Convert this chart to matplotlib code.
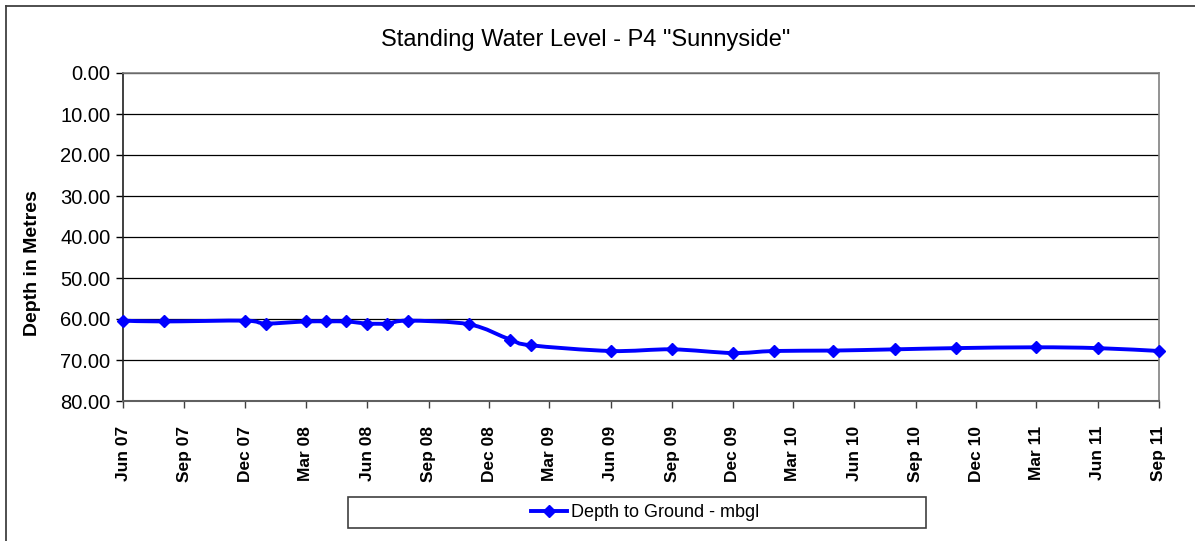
import matplotlib
matplotlib.use("Agg")
import matplotlib.pyplot as plt
import matplotlib.dates as mdates
from matplotlib.path import Path
from matplotlib.patches import PathPatch, Rectangle
from matplotlib.lines import Line2D
import numpy as np
from datetime import datetime

plt.rcParams['font.family'] = ['Liberation Sans', 'DejaVu Sans']

# ---- data ----
dates = ["2007-06", "2007-08", "2007-12", "2008-01", "2008-03", "2008-04",
         "2008-05", "2008-06", "2008-07", "2008-08", "2008-11", "2009-01",
         "2009-02", "2009-06", "2009-09", "2009-12", "2010-02", "2010-05",
         "2010-08", "2010-11", "2011-03", "2011-06", "2011-09"]
depth = [60.4, 60.6, 60.4, 61.1, 60.6, 60.6,
         60.6, 61.1, 61.1, 60.4, 61.3, 65.0,
         66.4, 67.8, 67.4, 68.3, 67.8, 67.7,
         67.4, 67.1, 66.9, 67.1, 67.8]
tick_dates = ["2007-06", "2007-09", "2007-12", "2008-03", "2008-06", "2008-09",
              "2008-12", "2009-03", "2009-06", "2009-09", "2009-12", "2010-03",
              "2010-06", "2010-09", "2010-12", "2011-03", "2011-06", "2011-09"]
y_ticks = [0, 10, 20, 30, 40, 50, 60, 70, 80]
title = 'Standing Water Level - P4 "Sunnyside"'
ylabel = "Depth in Metres"
series_name = "Depth to Ground - mbgl"

W, H = 1195, 541
fig = plt.figure(figsize=(W / 100, H / 100), dpi=100)
fig.patch.set_facecolor("white")

L, R, T, B = 123, 1159, 73, 401
ax = fig.add_axes([L / W, 1 - B / H, (R - L) / W, (B - T) / H])

xd = mdates.date2num([datetime.strptime(d, "%Y-%m") for d in dates])
yd = np.array(depth, dtype=float)
xt = mdates.date2num([datetime.strptime(d, "%Y-%m") for d in tick_dates])

# smoothed line (Excel-style Catmull-Rom Bezier through the data points)
n = len(xd)
verts = [(xd[0], yd[0])]
codes = [Path.MOVETO]
for i in range(n - 1):
    p0 = np.array([xd[max(i - 1, 0)], yd[max(i - 1, 0)]])
    p1 = np.array([xd[i], yd[i]])
    p2 = np.array([xd[i + 1], yd[i + 1]])
    p3 = np.array([xd[min(i + 2, n - 1)], yd[min(i + 2, n - 1)]])
    c1 = p1 + (p2 - p0) / 6.0
    c2 = p2 - (p3 - p1) / 6.0
    verts += [tuple(c1), tuple(c2), tuple(p2)]
    codes += [Path.CURVE4] * 3
patch = PathPatch(Path(verts, codes), facecolor="none", edgecolor="#0000FF",
                  lw=2.8, capstyle="round", joinstyle="round", zorder=3,
                  clip_on=False)
ax.add_patch(patch)
ax.plot(xd, yd, linestyle="none", marker="D", color="#0000FF",
        markersize=6.5, zorder=4, clip_on=False)

ax.set_xlim(xt[0], xt[-1])
ax.set_ylim(80, 0)
ax.set_yticks(y_ticks)
ax.set_yticklabels([f"{v:.2f}" for v in y_ticks], fontsize=14.5)
ax.set_xticks(xt)
ax.set_xticklabels([datetime.strptime(d, "%Y-%m").strftime("%b %y") for d in tick_dates],
                   rotation=90, fontsize=12.5, fontweight="bold")
ax.tick_params(axis="both", direction="out", length=5, width=1, color="black", pad=4)
ax.tick_params(axis="x", pad=13, color="#404040")

ax.grid(axis="y", color="black", lw=0.9, zorder=1)
ax.set_axisbelow(True)
for s in ["top", "right"]:
    ax.spines[s].set_color("#808080")
    ax.spines[s].set_linewidth(1.2)
ax.spines["left"].set_color("#202020")
ax.spines["left"].set_linewidth(1.2)
ax.spines["bottom"].set_color("#606060")
ax.spines["bottom"].set_linewidth(1.5)

fig.text(586 / W, 1 - 40 / H, title, ha="center", va="center", fontsize=17)
fig.text(33 / W, 1 - 263 / H, ylabel, ha="center", va="center", rotation=90,
         fontsize=14, fontweight="bold")

# outer border (left and top edges visible)
fig.add_artist(Line2D([5.5 / W, 5.5 / W], [0, 1 - 5.5 / H], color="#404040",
                      lw=1.3, transform=fig.transFigure))
fig.add_artist(Line2D([5.5 / W, 1], [1 - 5.5 / H, 1 - 5.5 / H], color="#404040",
                      lw=1.3, transform=fig.transFigure))

# legend box
fig.add_artist(Rectangle((348 / W, 1 - 528 / H), (926 - 348) / W, 31 / H,
                         transform=fig.transFigure, facecolor="white",
                         edgecolor="#404040", lw=1.2))
handle = Line2D([], [], color="#0000FF", lw=2.8, marker="D", markersize=6.5)
fig.legend([handle], [series_name], loc="center",
           bbox_to_anchor=(645 / W, 1 - 512.5 / H), frameon=False,
           fontsize=13, handlelength=2.0, handletextpad=0.2)

fig.savefig("out.png", dpi=100)
